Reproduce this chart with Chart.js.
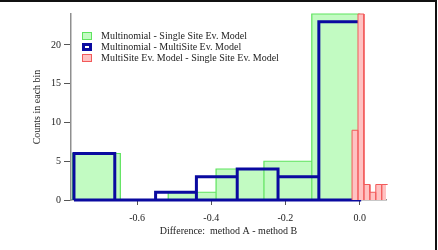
<!DOCTYPE html>
<html>
<head>
<meta charset="utf-8">
<script src="https://cdn.jsdelivr.net/npm/chart.js@4"></script>
<style>
  html, body { margin: 0; padding: 0; background: #fff; }
  #wrap { position: relative; width: 438px; height: 250px; overflow: hidden; }
  #frame { position: absolute; left: -4px; top: 0px; width: 441px; height: 260px;
           border-top: 2px solid #111; border-right: 2px solid #111; box-sizing: border-box; pointer-events: none; }
  .lg { position: absolute; left: 82px; font: 10px "Liberation Serif", "Times New Roman", serif; color: #222;
        white-space: nowrap; line-height: 11px; }
  .lg .box { position: absolute; left: 0; top: 2px; width: 10px; height: 8px; box-sizing: border-box; }
  .lg .txt { position: absolute; left: 19px; top: 0; }
</style>
</head>
<body>
<div id="wrap">
  <canvas id="c" width="438" height="250"></canvas>
  <div id="legend"></div>
  <div id="frame"></div>
</div>
<script>
// ---- data ----
const seriesLabels = [
  "Multinomial - Single Site Ev. Model",
  "Multinomial - MultiSite Ev. Model",
  "MultiSite Ev. Model - Single Site Ev. Model"
];
const greenEdges  = [-0.774, -0.645, -0.516, -0.387, -0.258, -0.129, 0.0];
const greenCounts = [6, 0, 1, 4, 5, 24];
const blueEdges   = [-0.77, -0.66, -0.55, -0.44, -0.33, -0.22, -0.11, 0.0];
const blueCounts  = [6, 0, 1, 3, 4, 3, 23];
const redEdges    = [-0.0205, -0.0045, 0.0115, 0.0275, 0.0435, 0.0595, 0.0755];
const redCounts   = [9, 24, 2, 1, 2, 2];
const xTicks = [-0.6, -0.4, -0.2, 0.0];
const yTicks = [0, 5, 10, 15, 20];

// histogram outline built from edges + counts
function histPoints(edges, counts, close) {
  const pts = [];
  for (let i = 0; i < counts.length; i++) {
    pts.push({x: edges[i], y: 0});
    pts.push({x: edges[i], y: counts[i]});
    pts.push({x: edges[i + 1], y: counts[i]});
    pts.push({x: edges[i + 1], y: 0});
  }
  if (close) pts.push({x: edges[0], y: 0});
  return pts;
}

const FONT = "'Liberation Serif', 'Times New Roman', serif";
const colors = {
  green: {fill: '#c2fbc2', line: '#5fe35f'},
  blue:  {line: '#0a0aa0'},
  red:   {fill: '#ffc2c2', line: '#f25a5a'}
};

const common = {pointRadius: 0, tension: 0, borderJoinStyle: 'miter', borderCapStyle: 'butt', clip: 6};

const chart = new Chart(document.getElementById('c'), {
  type: 'line',
  data: {
    datasets: [
      Object.assign({label: seriesLabels[0], data: histPoints(greenEdges, greenCounts, false),
        borderColor: colors.green.line, backgroundColor: colors.green.fill, borderWidth: 1.2,
        fill: 'origin', order: 3}, common),
      Object.assign({label: seriesLabels[1], data: histPoints(blueEdges, blueCounts, true),
        borderColor: colors.blue.line, backgroundColor: 'rgba(0,0,0,0)', borderWidth: 3,
        fill: false, order: 2}, common),
      Object.assign({label: seriesLabels[2], data: histPoints(redEdges, redCounts, false),
        borderColor: colors.red.line, backgroundColor: colors.red.fill, borderWidth: 1,
        fill: 'origin', order: 1}, common)
    ]
  },
  options: {
    responsive: false,
    animation: false,
    events: [],
    layout: {padding: {left: 0, top: 14, right: 52, bottom: 0}},
    plugins: {legend: {display: false}, tooltip: {enabled: false}},
    scales: {
      x: {
        type: 'linear', min: -0.778, max: 0.071,
        afterBuildTicks: s => { s.ticks = xTicks.map(v => ({value: v})); },
        afterFit: s => { s.height = 50; },
        grid: {drawOnChartArea: false, drawTicks: true, tickLength: 5, color: '#555', tickWidth: 1},
        border: {display: true, color: '#8f8f8f', width: 1.5},
        ticks: {maxRotation: 0, autoSkip: false, padding: 7, color: '#222',
                font: {family: FONT, size: 10},
                callback: v => Number(v).toFixed(1)},
        title: {display: true, text: 'Difference:  method A - method B', color: '#222',
                font: {family: FONT, size: 10}, padding: {top: 0, bottom: 13}}
      },
      y: {
        type: 'linear', min: 0, max: 24,
        afterBuildTicks: s => { s.ticks = yTicks.map(v => ({value: v})); },
        afterFit: s => { s.width = 71; },
        grid: {drawOnChartArea: false, drawTicks: true, tickLength: 7, color: '#555', tickWidth: 1},
        border: {display: true, color: '#8f8f8f', width: 1.5},
        ticks: {autoSkip: false, padding: 3, color: '#222', font: {family: FONT, size: 10},
                callback: v => String(v)},
        title: {display: true, text: 'Counts in each bin', color: '#222',
                font: {family: FONT, size: 10}, padding: {top: 31, bottom: 0}}
      }
    }
  }
});

// HTML legend built from the chart's datasets
const legendStyles = [
  'background:' + colors.green.fill + ';border:1px solid ' + colors.green.line,
  'background:#fff;border:3px solid ' + colors.blue.line,
  'background:' + colors.red.fill + ';border:1px solid ' + colors.red.line
];
const legendTops = [30, 41, 52];
const lg = document.getElementById('legend');
chart.data.datasets.forEach((ds, i) => {
  const row = document.createElement('div');
  row.className = 'lg';
  row.style.top = legendTops[i] + 'px';
  row.innerHTML = '<span class="box" style="' + legendStyles[i] + '"></span><span class="txt"></span>';
  row.querySelector('.txt').textContent = ds.label;
  lg.appendChild(row);
});
</script>
</body>
</html>
